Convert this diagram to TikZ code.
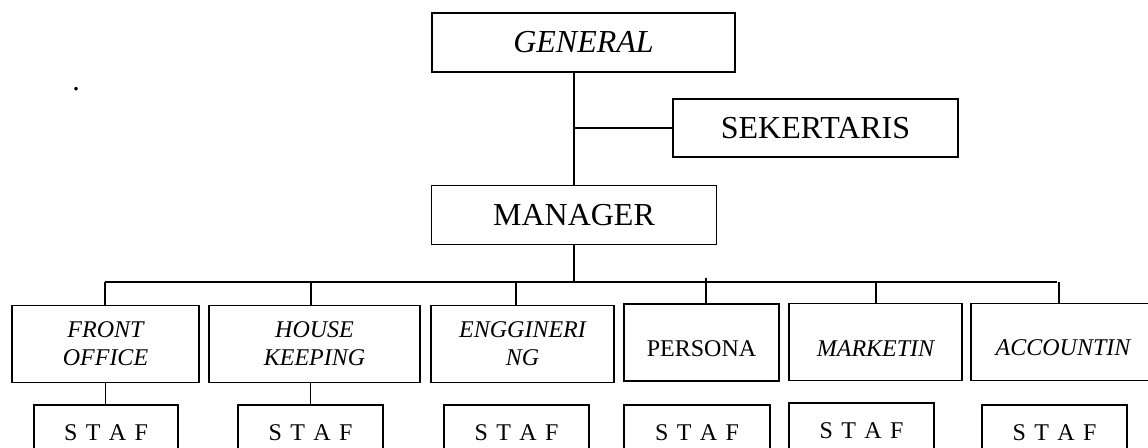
\documentclass[tikz,border=0pt]{standalone}
\usepackage{fontspec}
\setmainfont{Liberation Serif}
\newfontfamily\staffont[WordSpace=1.4]{Liberation Serif}
\usepackage{tikz}

\begin{document}
\begin{tikzpicture}[x=1pt,y=-1pt,line width=1.5pt,
  box/.style={draw,rectangle,inner sep=0pt,align=center,minimum height=59pt,font=\fontsize{32}{36}\selectfont},
  dept/.style={draw,rectangle,inner sep=0pt,align=center,minimum height=77pt,font=\fontsize{24}{28}\selectfont},
  idept/.style={dept,font=\fontsize{24}{28}\selectfont\itshape},
  staf/.style={draw,rectangle,inner sep=0pt,minimum width=145pt,minimum height=55pt,font=\staffont\fontsize{24}{28}\selectfont}]
\useasboundingbox (0,0) rectangle (1148,447);
\node[anchor=base,font=\fontsize{30}{34}\selectfont] (dot) at (76,90) {.};
\node[box,minimum width=303pt] (gen) at (583.5,42.5) {\textit{GENERAL}};
\node[box,minimum width=285pt,minimum height=58pt] (sek) at (815.5,128) {SEKERTARIS};
\node[box,minimum width=285pt] (man) at (574,215) {MANAGER};
\coordinate (bus) at (574,282);
\node[idept,minimum width=187pt] (fo) at (105.5,344) {FRONT\\OFFICE};
\node[idept,minimum width=211pt] (hk) at (314.5,344) {HOUSE\\KEEPING};
\node[idept,minimum width=183pt] (en) at (522.5,344) {ENGGINERI\\NG};
\node[dept,minimum width=155pt] (pe) at (701.5,342.5) {\mbox{}\\PERSONA};
\node[idept,minimum width=173pt] (mk) at (875.5,342) {\mbox{}\\MARKETIN};
\node[idept,minimum width=184pt] (ac) at (1063,342) {\mbox{}\\ACCOUNTIN};
\node[staf,minimum width=144pt] (s1) at (106,432.5) {S T A F};
\node[staf] (s2) at (310.5,432.5) {S T A F};
\node[staf] (s3) at (516.5,432.5) {S T A F};
\node[staf,minimum width=146pt] (s4) at (697,432.5) {S T A F};
\node[staf] (s5) at (861.5,430.5) {S T A F};
\node[staf] (s6) at (1054.5,432.5) {S T A F};
\draw (man.north |- gen.south) -- (man.north);
\draw (sek.west) -- (sek.west -| man.north);
\draw (man.south) -- (bus);
\draw ([xshift=-0.5pt]fo.north |- bus) -- ([xshift=-6pt]ac.north |- bus);
\foreach \d/\dx in {fo/-0.5,hk/-3.5,en/-6.5,mk/0.5,ac/-4}
  \draw ([xshift=\dx pt]\d.north |- bus) -- ([xshift=\dx pt]\d.north);
\draw ([xshift=4.5pt,yshift=4pt]pe.north |- bus) -- ([xshift=4.5pt]pe.north);
\draw (fo.south) -- (fo.south |- s1.north);
\draw (s2.north |- hk.south) -- (s2.north);
\end{tikzpicture}
\end{document}
